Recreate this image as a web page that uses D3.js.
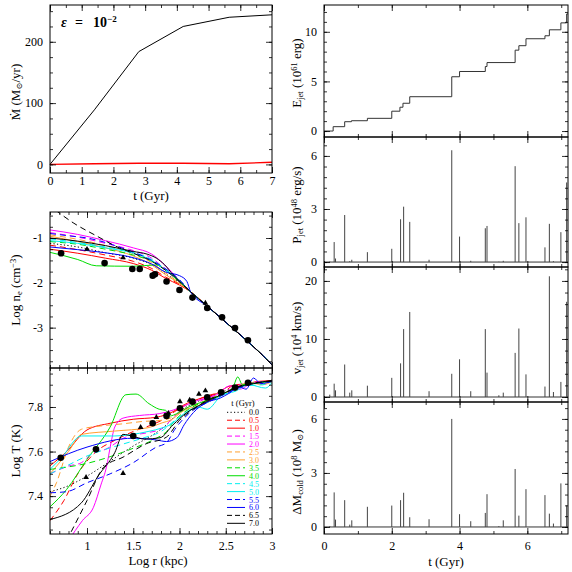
<!DOCTYPE html>
<html><head><meta charset="utf-8">
<script src="https://cdn.jsdelivr.net/npm/d3@7"></script>
<style>
body{margin:0;background:#fff}
svg{display:block}
text{font-family:"Liberation Serif","DejaVu Serif",serif;fill:#000}
</style></head>
<body><svg id="c" width="572" height="572"></svg>
<script>
// ---------------- DATA ----------------
// Mdot vs time
const tMdot = [0, 1.4, 2.8, 4.2, 5.65, 7.0];
const mdotTotal = [0, 89, 184, 225, 240, 244];
const mdotJet = [0, 1, 2, 2, 1, 3.5];

// jet events
const evT  = [0.17,0.30,0.34,0.61,0.76,0.82,1.28,2.00,2.26,2.35,2.53,3.10,3.77,4.00,4.33,4.76,4.81,5.16,5.29,5.64,5.75,5.96,6.52,6.65,6.77,6.99,7.16];
const evP  = [0.03,1.13,0.20,2.66,0.05,0.13,0.56,0.75,2.42,3.13,2.27,0.13,6.32,1.44,0.07,1.91,2.04,0.02,0.07,5.42,2.20,2.53,0.83,2.16,0.05,1.69,4.50];
const evV  = [0.4,2.3,1.15,5.6,0.75,1.15,1.95,3.3,5.8,11.7,14.65,1.0,4.0,6.5,1.0,11.7,4.2,0.3,0.75,7.6,11.8,3.9,1.8,20.8,0.86,2.6,16.4];
const evDM = [0.05,1.92,0.41,1.49,0.13,0.37,1.12,1.19,1.49,1.90,0.54,0.43,6.0,0.71,0.32,0.78,1.82,0.05,0.37,3.22,0.63,2.10,1.77,0.74,0.19,2.42,1.2];

// cumulative jet energy (steps)
const tE = [0,0.27,0.61,0.81,1.28,2.0,2.24,2.33,2.53,3.77,4.0,4.76,4.81,5.64,5.75,5.96,6.52,6.65,6.99,7.16,7.2];
const Ejet = [0,0.44,0.94,1.04,1.28,2.0,2.4,2.8,3.46,5.47,6.0,6.5,6.9,8.15,8.6,9.3,9.6,10.2,10.9,11.8,11.8];

// legend times
const times = ["0.0","0.5","1.0","1.5","2.0","2.5","3.0","3.5","4.0","4.5","5.0","5.5","6.0","6.5","7.0"];

// density profiles [log r, log n_e]
const neTail = [[2.12,-2.2],[2.3,-2.52],[2.5,-2.88],[2.7,-3.24],[2.9,-3.62],[3.0,-3.83]];
const ne00 = [[0.6,-1.12],[0.9,-1.2],[1.2,-1.33],[1.5,-1.45],[1.7,-1.6],[1.85,-1.8],[2.0,-2.0]];
const ne05 = [[0.6,-1.16],[0.9,-1.26],[1.2,-1.38],[1.5,-1.52],[1.7,-1.68],[1.85,-1.87],[2.0,-2.03]];
const ne10 = [[0.6,-1.25],[0.9,-1.34],[1.2,-1.45],[1.5,-1.57],[1.7,-1.72],[1.85,-1.9],[2.0,-2.05]];
const ne15 = [[0.6,-0.88],[0.9,-0.98],[1.2,-1.12],[1.5,-1.28],[1.7,-1.45],[1.85,-1.7],[2.0,-1.98]];
const ne20 = [[0.6,-0.82],[0.9,-0.92],[1.2,-1.06],[1.5,-1.22],[1.7,-1.36],[1.85,-1.62],[2.0,-1.95]];
const ne25 = [[0.6,-0.93],[0.9,-1.03],[1.2,-1.17],[1.5,-1.35],[1.7,-1.55],[1.85,-1.78],[2.0,-2.0]];
const ne30 = [[0.6,-0.96],[0.9,-1.08],[1.2,-1.22],[1.5,-1.4],[1.7,-1.6],[1.85,-1.82],[2.0,-2.02]];
const ne35 = [[0.6,-1.08],[0.9,-1.14],[1.2,-1.25],[1.5,-1.38],[1.7,-1.52],[1.85,-1.72],[2.0,-1.98]];
const ne40 = [[0.6,-1.32],[0.9,-1.48],[1.1,-1.62],[1.5,-1.63],[1.75,-1.6],[1.85,-1.72],[2.0,-1.96]];
const ne45 = [[0.6,-1.02],[0.9,-1.1],[1.2,-1.2],[1.5,-1.32],[1.7,-1.48],[1.85,-1.7],[2.0,-1.96]];
const ne50 = [[0.6,-1.06],[0.9,-1.12],[1.2,-1.22],[1.5,-1.34],[1.7,-1.5],[1.85,-1.72],[2.0,-1.95]];
const ne55 = [[0.6,-0.9],[0.8,-0.95],[1.0,-1.0],[1.2,-1.1],[1.4,-1.24],[1.6,-1.4],[1.8,-1.62],[2.0,-1.93]];
const ne60 = [[0.6,-1.2],[0.9,-1.26],[1.2,-1.33],[1.5,-1.44],[1.7,-1.58],[1.85,-1.76],[2.0,-1.84],[2.08,-1.97]];
const ne65 = [[0.66,-0.38],[0.85,-0.66],[1.1,-0.95],[1.35,-1.22],[1.5,-1.34],[1.7,-1.52],[1.85,-1.72],[2.0,-1.98]];
const ne70 = [[0.6,-1.0],[0.9,-1.07],[1.2,-1.17],[1.5,-1.3],[1.65,-1.36],[1.75,-1.45],[1.84,-1.6],[1.93,-1.82],[2.04,-2.04]];

// temperature profiles [log r, log T]
const T00 = [[0.6,7.42],[0.76,7.44],[1.0,7.49],[1.25,7.557],[1.5,7.625],[1.72,7.677],[1.86,7.72],[2.0,7.78],[2.2,7.825],[2.5,7.873],[2.8,7.905],[3.0,7.915]];
const T05 = [[0.6,7.29],[0.75,7.38],[0.9,7.5],[1.1,7.6],[1.3,7.65],[1.5,7.69],[1.7,7.72],[1.85,7.75],[1.95,7.78],[2.1,7.815],[2.3,7.85],[2.5,7.875],[2.6,7.9],[2.8,7.905],[3.0,7.92]];
const T10 = [[0.6,7.536],[0.78,7.6],[1.0,7.697],[1.25,7.727],[1.5,7.745],[1.75,7.754],[1.93,7.779],[2.05,7.81],[2.2,7.835],[2.4,7.86],[2.55,7.895],[2.7,7.9],[2.85,7.915],[3.0,7.918]];
const T15 = [[0.6,7.5],[0.8,7.535],[0.94,7.55],[1.05,7.59],[1.2,7.61],[1.42,7.665],[1.66,7.685],[1.8,7.7],[1.95,7.76],[2.1,7.8],[2.3,7.84],[2.5,7.87],[2.7,7.905],[3.0,7.915]];
const T20 = [[0.8,7.2],[0.95,7.29],[1.07,7.35],[1.15,7.45],[1.21,7.53],[1.26,7.64],[1.30,7.71],[1.39,7.75],[1.57,7.762],[1.78,7.77],[1.93,7.786],[2.05,7.805],[2.2,7.83],[2.4,7.855],[2.55,7.895],[2.65,7.88],[2.8,7.91],[3.0,7.915]];
const T25 = [[0.6,7.4],[0.67,7.46],[0.8,7.62],[0.94,7.7],[1.15,7.715],[1.4,7.725],[1.6,7.735],[1.8,7.74],[1.9,7.75],[2.05,7.79],[2.2,7.815],[2.4,7.85],[2.6,7.88],[2.8,7.905],[3.0,7.91]];
const T30 = [[0.6,7.5],[0.8,7.6],[0.94,7.677],[1.3,7.692],[1.66,7.707],[1.82,7.73],[1.9,7.74],[2.05,7.785],[2.2,7.805],[2.4,7.84],[2.6,7.885],[2.75,7.91],[2.9,7.9],[3.0,7.915]];
const T35 = [[0.6,7.52],[0.78,7.53],[1.0,7.547],[1.25,7.577],[1.5,7.615],[1.75,7.66],[1.86,7.69],[1.95,7.74],[2.1,7.79],[2.3,7.83],[2.5,7.865],[2.7,7.9],[3.0,7.915]];
const T40 = [[0.6,7.352],[0.78,7.43],[1.0,7.565],[1.25,7.71],[1.42,7.855],[1.53,7.858],[1.67,7.815],[1.78,7.79],[1.85,7.785],[1.9,7.76],[1.97,7.77],[2.1,7.8],[2.3,7.83],[2.5,7.865],[2.58,7.89],[2.63,7.935],[2.68,7.9],[2.8,7.905],[3.0,7.915]];
const T45 = [[0.6,7.5],[0.8,7.54],[1.0,7.58],[1.2,7.61],[1.4,7.635],[1.6,7.66],[1.8,7.69],[1.95,7.74],[2.1,7.78],[2.3,7.82],[2.5,7.86],[2.7,7.895],[2.9,7.9],[3.0,7.915]];
const T50 = [[0.6,7.52],[0.72,7.57],[0.94,7.67],[1.3,7.67],[1.66,7.69],[1.82,7.707],[1.9,7.72],[2.05,7.77],[2.2,7.8],[2.3,7.79],[2.45,7.85],[2.6,7.87],[2.75,7.9],[2.93,7.885],[3.0,7.91]];
const T55 = [[0.6,7.415],[0.78,7.42],[1.0,7.46],[1.25,7.5],[1.5,7.55],[1.75,7.62],[1.86,7.64],[1.95,7.7],[2.1,7.77],[2.3,7.82],[2.5,7.86],[2.7,7.895],[3.0,7.915]];
const T60 = [[0.6,7.555],[1.0,7.62],[1.5,7.66],[1.75,7.652],[1.86,7.645],[1.97,7.662],[2.05,7.72],[2.15,7.775],[2.29,7.82],[2.44,7.84],[2.53,7.86],[2.65,7.89],[2.72,7.88],[2.8,7.93],[2.88,7.905],[3.0,7.915]];
const T65 = [[0.78,7.2],[1.0,7.38],[1.18,7.53],[1.39,7.575],[1.64,7.635],[1.86,7.665],[2.0,7.74],[2.15,7.79],[2.3,7.83],[2.5,7.865],[2.7,7.9],[3.0,7.915]];
const T70 = [[0.6,7.295],[0.94,7.37],[1.12,7.49],[1.3,7.595],[1.39,7.677],[1.5,7.668],[1.62,7.656],[1.79,7.662],[1.93,7.72],[2.08,7.775],[2.25,7.815],[2.45,7.855],[2.6,7.885],[2.8,7.905],[3.0,7.92]];

// observed points
const obsR = [0.72,1.19,1.49,1.57,1.71,1.735,1.86,2.0,2.14,2.30,2.46,2.60,2.74];
const obsNe = [-1.34,-1.56,-1.69,-1.69,-1.84,-1.81,-1.97,-2.16,-2.33,-2.56,-2.77,-3.01,-3.28];
const obsTR = [0.716,1.097,1.50,1.71,1.86,2.005,2.14,2.30,2.45,2.60,2.74];
const obsT = [7.572,7.61,7.67,7.727,7.76,7.794,7.824,7.843,7.866,7.887,7.909];
const triNeR = [1.0,1.39,2.28];
const triNe = [-1.25,-1.44,-2.45];
const triTR = [0.99,1.39,1.58,1.75,1.88,2.005,2.11,2.21,2.28];
const triT = [7.484,7.502,7.709,7.754,7.772,7.824,7.831,7.858,7.873];

const neProfiles = [ne00,ne05,ne10,ne15,ne20,ne25,ne30,ne35,ne40,ne45,ne50,ne55,ne60,ne65,ne70];
const TProfiles = [T00,T05,T10,T15,T20,T25,T30,T35,T40,T45,T50,T55,T60,T65,T70];

// ---------------- STYLE ----------------
const cRed="#ff0000", cMag="#ff00ff", cOr="#ffa030", cGr="#00dd00", cCy="#00f0f0", cBl="#0000ff";
const lineColors = ["#000",cRed,cRed,cMag,cMag,cOr,cOr,cGr,cGr,cCy,cCy,cBl,cBl,"#000","#000"];
const lineDash = (i)=> i===0 ? "1.2,2.3" : (i%2===1 ? "6,4" : null);

const svg = d3.select("#c");

function rng(a,b,s){ const n=Math.round((b-a)/s); return d3.range(n+1).map(i=>+(a+i*s).toFixed(6)); }

function panel(x, y, o) {
  const [x0, x1] = x.range(); const [yb, yt] = y.range();
  const g = svg.append("g");
  const mk = (axisFn, scale, vals, size, labels, tr, pad) => {
    const ax = axisFn(scale).tickValues(vals).tickSize(size).tickPadding(pad);
    ax.tickFormat(labels ? (d=>String(d)) : "");
    const a = g.append("g").attr("transform", tr).call(ax);
    a.select(".domain").remove();
    a.attr("font-family", null).attr("font-size", null);
    a.selectAll("line").attr("stroke","#000").attr("stroke-width",0.8);
    a.selectAll("text").attr("font-size", 12);
    return a;
  };
  mk(d3.axisBottom, x, o.xMinor, -3, false, `translate(0,${yb})`, 0);
  mk(d3.axisBottom, x, o.xMajor, -6, o.xLabels, `translate(0,${yb})`, o.xPad||4);
  mk(d3.axisTop, x, o.xMinor, -3, false, `translate(0,${yt})`, 0);
  mk(d3.axisTop, x, o.xMajor, -6, false, `translate(0,${yt})`, 0);
  mk(d3.axisLeft, y, o.yMinor, -3, false, `translate(${x0},0)`, 0);
  mk(d3.axisLeft, y, o.yMajor, -6, true, `translate(${x0},0)`, 7);
  mk(d3.axisRight, y, o.yMinor, -3, false, `translate(${x1},0)`, 0);
  mk(d3.axisRight, y, o.yMajor, -6, false, `translate(${x1},0)`, 0);
  g.append("rect").attr("x",x0).attr("y",yt).attr("width",x1-x0).attr("height",yb-yt)
    .attr("fill","none").attr("stroke","#000").attr("stroke-width",1);
  return g;
}

function richText(x, y, parts, size, rotate, anchor) {
  const t = svg.append("text").attr("font-size", size).attr("text-anchor", anchor||"middle");
  if (rotate) t.attr("transform", `translate(${x},${y}) rotate(-90)`);
  else t.attr("x", x).attr("y", y);
  parts.forEach(([s, m]) => {
    const ts = t.append("tspan").text(s);
    if (m === "sup") ts.attr("font-size", size*0.65).attr("baseline-shift", "45%");
    if (m === "sub") ts.attr("font-size", size*0.65).attr("baseline-shift", "-25%");
  });
  return t;
}

function clip(id, x, y) {
  const [x0,x1]=x.range(), [yb,yt]=y.range();
  svg.append("clipPath").attr("id",id).append("rect").attr("x",x0).attr("y",yt).attr("width",x1-x0).attr("height",yb-yt);
}

// ---------------- TOP-LEFT: Mdot ----------------
const xT = d3.scaleLinear([0,7],[50,272]);
const yM = d3.scaleLinear([-14,260],[173,5]);
const lineM = d3.line().x((d,i)=>xT(tMdot[i])).y(d=>yM(d));
svg.append("path").datum(mdotTotal).attr("d",lineM).attr("fill","none").attr("stroke","#000").attr("stroke-width",1);
svg.append("path").datum(mdotJet).attr("d",lineM).attr("fill","none").attr("stroke",cRed).attr("stroke-width",1.4);
panel(xT, yM, {xMajor:rng(0,7,1), xMinor:rng(0,7,0.5), xLabels:true, xPad:3, yMajor:[0,100,200], yMinor:rng(0,250,25)});
richText(20, 92, [["Ṁ (M"],["⊙","sub"],["/yr)"]], 13, true);
richText(151, 200, [["t (Gyr)"]], 13, false);
{
  const e = svg.append("text").attr("x",61).attr("y",27).attr("font-size",14).attr("font-weight","bold");
  e.append("tspan").text("ε").attr("font-style","italic");
  e.append("tspan").text("=").attr("x",75);
  e.append("tspan").text("10").attr("x",93);
  e.append("tspan").text("−2").attr("font-size",9).attr("baseline-shift","55%");
}

// ---------------- MIDDLE-LEFT: density ----------------
const xR = d3.scaleLinear([0.6,3],[50,272]);
const yN = d3.scaleLinear([-3.9,-0.42],[368,212]);
clip("cpN", xR, yN);
const lineN = d3.line().x(d=>xR(d[0])).y(d=>yN(d[1])).curve(d3.curveMonotoneX);
const gN = svg.append("g").attr("clip-path","url(#cpN)");
neProfiles.forEach((p,i)=>{
  gN.append("path").datum(p.concat(neTail)).attr("d",lineN).attr("fill","none")
    .attr("stroke",lineColors[i]).attr("stroke-width",1).attr("stroke-dasharray",lineDash(i));
});
gN.selectAll("circle.o").data(obsR).join("circle").attr("cx",d=>xR(d)).attr("cy",(d,i)=>yN(obsNe[i])).attr("r",3.3).attr("fill","#000");
gN.selectAll("path.tri").data(triNeR).join("path").attr("class","tri")
  .attr("d", d3.symbol(d3.symbolTriangle, 14)).attr("transform",(d,i)=>`translate(${xR(d)},${yN(triNe[i])})`).attr("fill","#000");
panel(xR, yN, {xMajor:[1,1.5,2,2.5,3], xMinor:rng(0.6,3,0.1), xLabels:false, yMajor:[-1,-2,-3], yMinor:rng(-3.75,-0.5,0.25)});
richText(20, 290, [["Log  n"],["e","sub"],["  (cm"],["−3","sup"],[")"]], 13, true);

// ---------------- BOTTOM-LEFT: temperature ----------------
const yTT = d3.scaleLinear([7.23,7.975],[534,368]);
clip("cpT", xR, yTT);
const lineTT = d3.line().x(d=>xR(d[0])).y(d=>yTT(d[1])).curve(d3.curveMonotoneX);
const gT = svg.append("g").attr("clip-path","url(#cpT)");
TProfiles.forEach((p,i)=>{
  gT.append("path").datum(p).attr("d",lineTT).attr("fill","none")
    .attr("stroke",lineColors[i]).attr("stroke-width",1).attr("stroke-dasharray",lineDash(i));
});
gT.selectAll("circle.o").data(obsTR).join("circle").attr("cx",d=>xR(d)).attr("cy",(d,i)=>yTT(obsT[i])).attr("r",3.3).attr("fill","#000");
gT.selectAll("path.tri").data(triTR).join("path").attr("class","tri")
  .attr("d", d3.symbol(d3.symbolTriangle, 14)).attr("transform",(d,i)=>`translate(${xR(d)},${yTT(triT[i])})`).attr("fill","#000");
panel(xR, yTT, {xMajor:[1,1.5,2,2.5,3], xMinor:rng(0.6,3,0.1), xLabels:true, xPad:7, yMajor:[7.4,7.6,7.8], yMinor:rng(7.25,7.95,0.05)});
richText(20, 451, [["Log  T  (K)"]], 13, true);
richText(158, 565, [["Log  r  (kpc)"]], 13, false);
// legend
{
  const lg = svg.append("g");
  lg.append("text").attr("x",243).attr("y",406).attr("font-size",8.5).attr("text-anchor","middle").text("t (Gyr)");
  times.forEach((s,i)=>{
    const yy = 412.3 + i*7.93;
    lg.append("line").attr("x1",227).attr("x2",245).attr("y1",yy).attr("y2",yy)
      .attr("stroke",lineColors[i]).attr("stroke-width",1).attr("stroke-dasharray", i===0?"1.2,2.3":(i%2===1?"5,3":null));
    lg.append("text").attr("x",259).attr("y",yy+3).attr("font-size",8).attr("text-anchor","end")
      .style("fill",lineColors[i]).text(s);
  });
}

// ---------------- RIGHT PANELS ----------------
const xt = d3.scaleLinear([0,7.2],[324,568]);
const yE = d3.scaleLinear([-0.6,12.7],[137,5]);
const yP = d3.scaleLinear([-0.28,7.07],[267,137]);
const yV = d3.scaleLinear([-0.86,22.4],[402,267]);
const yD = d3.scaleLinear([-0.39,6.94],[534,402]);

svg.append("path").datum(Ejet).attr("d", d3.line().x((d,i)=>xt(tE[i])).y(d=>yE(d)).curve(d3.curveStepAfter))
  .attr("fill","none").attr("stroke","#333").attr("stroke-width",1);

function spikes(ys, vals) {
  const g = svg.append("g");
  g.append("line").attr("x1",xt(0)).attr("x2",xt(7.2)).attr("y1",ys(0)).attr("y2",ys(0)).attr("stroke","#333").attr("stroke-width",1);
  g.selectAll("line.s").data(evT).join("line").attr("class","s")
    .attr("x1",d=>xt(d)).attr("x2",d=>xt(d)).attr("y1",ys(0)).attr("y2",(d,i)=>ys(vals[i]))
    .attr("stroke","#444").attr("stroke-width",1);
}
spikes(yP, evP); spikes(yV, evV); spikes(yD, evDM);

const tMajor = [0,2,4,6], tMinor = rng(0,7,1);
panel(xt, yE, {xMajor:tMajor, xMinor:tMinor, xLabels:false, yMajor:[0,5,10], yMinor:rng(0,12,1)});
panel(xt, yP, {xMajor:tMajor, xMinor:tMinor, xLabels:false, yMajor:[0,3,6], yMinor:rng(0,6.6,0.6)});
panel(xt, yV, {xMajor:tMajor, xMinor:tMinor, xLabels:false, yMajor:[0,10,20], yMinor:rng(0,22,2)});
panel(xt, yD, {xMajor:tMajor, xMinor:tMinor, xLabels:true, xPad:7, yMajor:[0,3,6], yMinor:rng(0,6.6,0.6)});

richText(301, 73, [["E"],["jet","sub"],["  (10"],["61","sup"],[" erg)"]], 13, true);
richText(301, 205, [["P"],["jet","sub"],["  (10"],["48","sup"],[" erg/s)"]], 13, true);
richText(301, 338, [["v"],["jet","sub"],["  (10"],["4","sup"],[" km/s)"]], 13, true);
richText(301, 472, [["ΔM"],["cold","sub"],["  (10"],["8","sup"],[" M"],["⊙","sub"],[")"]], 13, true);
richText(446, 566, [["t (Gyr)"]], 13, false);
</script></body></html>
